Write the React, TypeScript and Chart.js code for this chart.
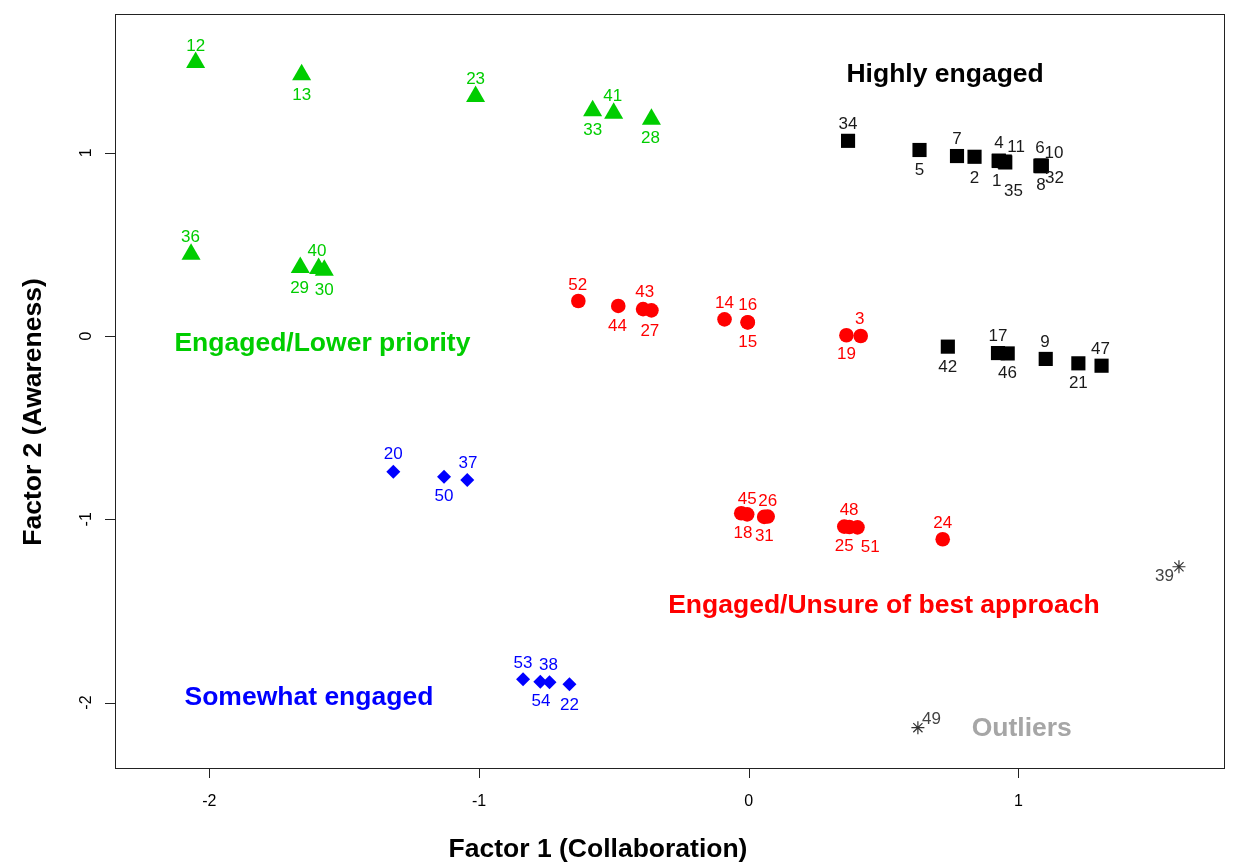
import React, { useEffect, useRef } from 'react';
import { Chart, registerables } from 'chart.js';

Chart.register(...registerables);

// ---- axes ----
const X_TICKS = [-2, -1, 0, 1];
const Y_TICKS = [-2, -1, 0, 1];
const X_MIN = -2.35;
const X_MAX = 1.762;
const Y_MIN = -2.357;
const Y_MAX = 1.757;
const X_TITLE = 'Factor 1 (Collaboration)';
const Y_TITLE = 'Factor 2 (Awareness)';

// ---- Highly engaged (black squares) ----
const highIds = ['34', '5', '7', '2', '4', '11', '1', '35', '6', '10', '8', '32', '42', '17', '46', '9', '21', '47'];
const highX = [0.368, 0.633, 0.772, 0.837, 0.927, 0.949, 0.927, 0.951, 1.082, 1.086, 1.082, 1.086, 0.738, 0.924, 0.960, 1.101, 1.222, 1.308];
const highY = [1.065, 1.015, 0.982, 0.978, 0.957, 0.952, 0.955, 0.947, 0.930, 0.927, 0.927, 0.930, -0.058, -0.093, -0.095, -0.125, -0.149, -0.162];

// ---- Engaged/Lower priority (green triangles) ----
const lowIds = ['12', '13', '23', '33', '41', '28', '36', '29', '40', '30'];
const lowX = [-2.051, -1.658, -1.013, -0.579, -0.501, -0.361, -2.068, -1.663, -1.595, -1.574];
const lowY = [1.492, 1.425, 1.307, 1.229, 1.215, 1.183, 0.446, 0.374, 0.368, 0.359];

// ---- Engaged/Unsure of best approach (red circles) ----
const unsureIds = ['52', '44', '43', '27', '14', '16', '15', '19', '3', '18', '45', '31', '26', '25', '48', '51', '24'];
const unsureX = [-0.632, -0.484, -0.392, -0.361, -0.090, -0.004, -0.004, 0.362, 0.415, -0.028, -0.006, 0.057, 0.070, 0.354, 0.373, 0.403, 0.719];
const unsureY = [0.191, 0.164, 0.147, 0.140, 0.091, 0.075, 0.074, 0.004, 0.000, -0.967, -0.973, -0.987, -0.985, -1.040, -1.042, -1.044, -1.109];

// ---- Somewhat engaged (blue diamonds) ----
const someIds = ['20', '50', '37', '53', '54', '38', '22'];
const someX = [-1.318, -1.130, -1.044, -0.837, -0.773, -0.739, -0.665];
const someY = [-0.740, -0.768, -0.786, -1.873, -1.886, -1.889, -1.900];

// ---- Outliers (grey stars) ----
const outIds = ['39', '49'];
const outX = [1.595, 0.627];
const outY = [-1.259, -2.137];

// ---- group annotations ----
const noteTexts = ['Highly engaged', 'Engaged/Lower priority', 'Engaged/Unsure of best approach', 'Somewhat engaged', 'Outliers'];
const noteX = [0.728, -1.581, 0.501, -1.631, 1.012];
const noteY = [1.435, -0.033, -1.462, -1.964, -2.133];

// ---- styling (label placement relative to each point, in px) ----
const LABEL_OFFSETS: Record<string, [number, number]> = {
  '12': [0, -17.5], '13': [0, 19.2], '23': [0, -18.2], '33': [0, 18.5], '41': [-1, -18.2], '28': [-1, 18.1],
  '36': [-0.6, -18.2], '29': [-0.7, 19.2], '40': [-1.6, -18.5], '30': [0, 19.1],
  '34': [0, -17.4], '5': [0, 19], '7': [0, -17.7], '2': [0, 20.6], '4': [0.3, -18.2], '11': [11.3, -15.8],
  '1': [-2, 19], '35': [8.2, 27.5], '6': [-0.7, -18.8], '10': [12.3, -14.3], '8': [0.3, 18.3], '32': [12.7, 11.8],
  '42': [0, 19], '17': [0, -18], '46': [-0.3, 18.8], '9': [-0.7, -18.3], '21': [0, 18.4], '47': [-1, -17.4],
  '52': [-0.7, -17], '44': [-0.7, 19], '43': [1.7, -18], '27': [-1.6, 19.7], '14': [0, -17.6], '16': [0, -18.3],
  '15': [0, 18.5], '19': [0, 18], '3': [-1, -17.7], '18': [1.7, 19], '45': [0, -16.6], '31': [0.2, 18],
  '26': [0, -16.5], '25': [0, 18.3], '48': [-0.3, -17.7], '51': [12.7, 18.7], '24': [0, -17.6],
  '20': [0, -18.4], '50': [0, 18.3], '37': [0.7, -17.7], '53': [0, -17.6], '54': [0.6, 18.3], '38': [-1, -18.3], '22': [0, 19.7],
  '39': [-14.4, 8.3], '49': [13.6, -9.4],
};

const GREEN = 'rgb(0,205,0)';
const RED = '#FF0000';
const BLUE = '#0000FF';
const BLACK = '#000000';
const STAR = '#333333';
const NOTE_COLORS = [BLACK, GREEN, RED, BLUE, '#A6A6A6'];
const FONT = '"Liberation Sans", Arial, Helvetica, sans-serif';

const toPts = (xs: number[], ys: number[]) => xs.map((x, i) => ({ x, y: ys[i] }));

const rStylePlugin = {
  id: 'rStyle',
  afterDatasetsDraw(chart: any) {
    const ctx: CanvasRenderingContext2D = chart.ctx;
    const { left, right, top, bottom } = chart.chartArea;
    const xs = chart.scales.x;
    const ys = chart.scales.y;
    ctx.save();

    // plot box
    ctx.strokeStyle = '#222';
    ctx.lineWidth = 1;
    ctx.strokeRect(Math.round(left) + 0.5, Math.round(top) + 0.5, Math.round(right - left), Math.round(bottom - top));

    // x ticks
    ctx.fillStyle = '#000';
    ctx.font = `16px ${FONT}`;
    ctx.textAlign = 'center';
    ctx.textBaseline = 'alphabetic';
    ctx.beginPath();
    X_TICKS.forEach((v) => {
      const px = Math.round(xs.getPixelForValue(v)) + 0.5;
      ctx.moveTo(px, bottom);
      ctx.lineTo(px, bottom + 10);
    });
    ctx.moveTo(xs.getPixelForValue(X_TICKS[0]), Math.round(bottom) + 0.5);
    ctx.lineTo(xs.getPixelForValue(X_TICKS[X_TICKS.length - 1]), Math.round(bottom) + 0.5);
    ctx.stroke();
    X_TICKS.forEach((v) => {
      ctx.fillText(String(v), xs.getPixelForValue(v), 806);
    });

    // y ticks (rotated labels)
    ctx.beginPath();
    Y_TICKS.forEach((v) => {
      const py = Math.round(ys.getPixelForValue(v)) + 0.5;
      ctx.moveTo(left, py);
      ctx.lineTo(left - 10, py);
    });
    ctx.moveTo(Math.round(left) + 0.5, ys.getPixelForValue(Y_TICKS[0]));
    ctx.lineTo(Math.round(left) + 0.5, ys.getPixelForValue(Y_TICKS[Y_TICKS.length - 1]));
    ctx.stroke();
    Y_TICKS.forEach((v) => {
      ctx.save();
      ctx.translate(91, ys.getPixelForValue(v));
      ctx.rotate(-Math.PI / 2);
      ctx.fillText(String(v), 0, 0);
      ctx.restore();
    });

    // axis titles
    ctx.font = `bold 26.5px ${FONT}`;
    ctx.fillText(X_TITLE, 598, 857);
    ctx.save();
    ctx.translate(41, 412);
    ctx.rotate(-Math.PI / 2);
    ctx.fillText(Y_TITLE, 0, 0);
    ctx.restore();

    // point labels
    ctx.font = `17px ${FONT}`;
    chart.data.datasets.forEach((ds: any, di: number) => {
      const meta = chart.getDatasetMeta(di);
      ctx.fillStyle = ds.labelColor;
      ds.ids.forEach((id: string, i: number) => {
        const el = meta.data[i];
        const off = LABEL_OFFSETS[id] || [0, -18];
        ctx.fillText(id, el.x + off[0], el.y + off[1] + 6);
      });
    });

    // group annotations
    ctx.font = `bold 26.5px ${FONT}`;
    noteTexts.forEach((t, i) => {
      ctx.fillStyle = NOTE_COLORS[i];
      ctx.fillText(t, xs.getPixelForValue(noteX[i]), ys.getPixelForValue(noteY[i]) + 9.4);
    });

    ctx.restore();
  },
};

export default function App() {
  const ref = useRef<HTMLCanvasElement | null>(null);

  useEffect(() => {
    document.body.style.margin = '0';
    if (!ref.current) return;
    const mk = (ids: string[], xs: number[], ys: number[], style: string, r: number, color: string, labelColor: string, bw = 0) => ({
      label: '',
      ids,
      labelColor,
      data: toPts(xs, ys),
      pointStyle: style,
      pointRadius: r,
      pointHoverRadius: r,
      backgroundColor: color,
      borderColor: color,
      borderWidth: bw,
      pointBorderWidth: bw,
    });
    const chart = new Chart(ref.current, {
      type: 'scatter',
      data: {
        datasets: [
          mk(lowIds, lowX, lowY, 'triangle', 11, GREEN, GREEN),
          mk(highIds, highX, highY, 'rect', 10, BLACK, '#1a1a1a'),
          mk(unsureIds, unsureX, unsureY, 'circle', 7.3, RED, RED),
          mk(someIds, someX, someY, 'rectRot', 7, BLUE, BLUE),
          mk(outIds, outX, outY, 'star', 6.5, STAR, '#444444', 1.2),
        ] as any,
      },
      options: {
        responsive: false,
        animation: false,
        layout: { padding: { left: 115, right: 5, top: 14, bottom: 96 } },
        plugins: { legend: { display: false }, tooltip: { enabled: false } },
        scales: {
          x: { type: 'linear', display: false, min: X_MIN, max: X_MAX },
          y: { type: 'linear', display: false, min: Y_MIN, max: Y_MAX },
        },
      },
      plugins: [rStylePlugin],
    });
    return () => chart.destroy();
  }, []);

  return <canvas ref={ref} width={1235} height={864} style={{ display: 'block' }} />;
}
